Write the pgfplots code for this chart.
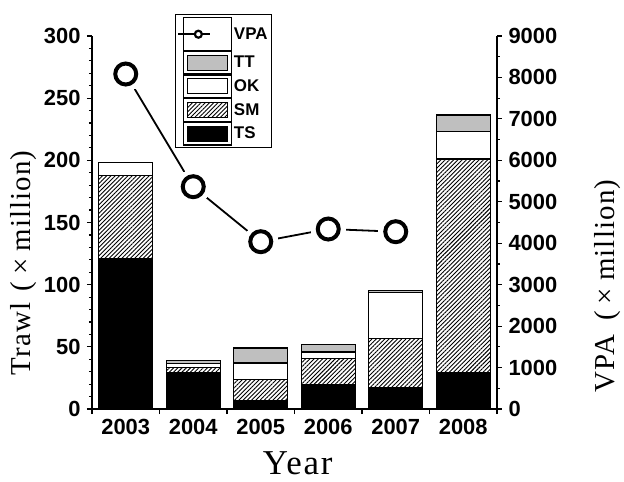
\documentclass[border=0pt]{standalone}
\usepackage{fontspec}
\setmainfont{Liberation Serif}
\newfontfamily\arial{Liberation Sans}
\usepackage{pgfplots}
\pgfplotsset{compat=1.18}
\usetikzlibrary{patterns.meta}

\begin{document}
\begin{tikzpicture}
\begin{axis}[
 name=ax, at={(0,0)}, anchor=south west,
 width=405bp, height=373bp, scale only axis,
 xmin=-0.5, xmax=5.5, ymin=0, ymax=300,
 axis y line*=left, axis x line*=bottom,
 ybar stacked, bar width=0.8,
 axis line style={line width=1.2bp, -},
 tick style={line width=1.2bp, black},
 tick align=outside,
 major tick length=5bp, minor tick length=3bp,
 ytick={0,50,...,300}, minor y tick num=4,
 xtick={-0.5,0.5,1.5,2.5,3.5,4.5,5.5}, xticklabels={},
 extra x ticks={0,1,2,3,4,5},
 extra x tick labels={2003,2004,2005,2006,2007,2008},
 extra x tick style={major tick length=0pt},
 ticklabel style={font=\arial\bfseries\fontsize{22}{22}\selectfont},
 yticklabel style={xshift=-3bp},
 xticklabel style={yshift=-7bp},
 /pgf/number format/assume math mode=true,
 ylabel={Trawl\hspace{11bp}(\hspace{7bp}×\hspace{7bp}million)},
 ylabel style={at={(axis description cs:-0.170,0.392)}, anchor=center, inner sep=0pt, font=\addfontfeature{LetterSpace=4}\fontsize{29}{29}\selectfont},
 xlabel={Year},
 xlabel style={at={(axis description cs:0.508,-0.145)}, anchor=center, font=\addfontfeature{LetterSpace=5}\fontsize{35}{35}\selectfont},
]
\addplot[fill=black, draw=black, line width=1.2bp] coordinates {(0,121) (1,29.5) (2,7) (3,19.3) (4,17.5) (5,29)};
\addplot[pattern={Lines[angle=45,distance=3bp,line width=0.9bp]}, draw=black, line width=1.2bp] coordinates {(0,67) (1,4) (2,17) (3,21.5) (4,39) (5,172)};
\addplot[fill=white, draw=black, line width=1.2bp] coordinates {(0,10) (1,3) (2,13) (3,5) (4,37) (5,22)};
\addplot[fill=gray!50, draw=black, line width=1.2bp] coordinates {(0,0) (1,2.5) (2,12) (3,6) (4,1.5) (5,13.5)};
\end{axis}
\begin{axis}[
 at={(0,0)}, anchor=south west,
 width=405bp, height=373bp, scale only axis,
 xmin=-0.5, xmax=5.5, ymin=0, ymax=9000,
 axis y line*=right, axis x line=none,
 axis line style={line width=1.2bp, -},
 tick style={line width=1.2bp, black},
 tick align=outside,
 major tick length=5bp, minor tick length=3bp,
 ytick={0,1000,...,9000}, minor y tick num=1,
 scaled y ticks=false,
 yticklabel style={/pgf/number format/1000 sep={}, font=\arial\bfseries\fontsize{22}{22}\selectfont, xshift=3bp},
 /pgf/number format/assume math mode=true,
 ylabel={VPA\hspace{14bp}(\hspace{7bp}×\hspace{7bp}million)},
 ylabel style={at={(axis description cs:1.274,0.33)}, anchor=center, inner sep=0pt, font=\addfontfeature{LetterSpace=4}\fontsize{29}{29}\selectfont},
 legend style={at={(rel axis cs:0.205,1.059)}, anchor=north west, draw=black, line width=1.2bp,
   font=\arial\bfseries\fontsize{17}{17}\selectfont, row sep=0pt, inner sep=2bp},
 legend cell align=left,
]
\addplot[line width=1.8bp, black, forget plot] coordinates {(0,8083) (1,5364) (2,4037) (3,4343) (4,4278)};
\addplot[only marks, mark=*, mark size=17bp, mark options={fill=white, draw=white, line width=0pt}, forget plot] coordinates {(0,8083) (1,5364) (2,4037) (3,4343) (4,4278)};
\addplot[only marks, mark=o, mark size=10.5bp, mark options={line width=4bp, draw=black, fill=white},
  legend image code/.code={
    \path (0bp,-16bp) rectangle (48bp,17bp);
    \draw[line width=1.5bp] (-5bp,0bp) -- (27bp,0bp);
    \draw[line width=2.2bp, fill=white] (15bp,0bp) circle (3.5bp);
  }] coordinates {(0,8083) (1,5364) (2,4037) (3,4343) (4,4278)};
\addlegendentry{VPA}
\addlegendimage{legend image code/.code={\path (0bp,-11.25bp) rectangle (48bp,11.25bp); \draw[line width=1bp, fill=gray!50] (4bp,-7.5bp) rectangle (44bp,7.5bp);}}
\addlegendentry{TT}
\addlegendimage{legend image code/.code={\path (0bp,-11.25bp) rectangle (48bp,11.25bp); \draw[line width=1bp, fill=white] (4bp,-7.5bp) rectangle (44bp,7.5bp);}}
\addlegendentry{OK}
\addlegendimage{legend image code/.code={\path (0bp,-11.25bp) rectangle (48bp,11.25bp); \draw[line width=1bp, pattern={Lines[angle=45,distance=3bp,line width=0.9bp]}] (4bp,-7.5bp) rectangle (44bp,7.5bp);}}
\addlegendentry{SM}
\addlegendimage{legend image code/.code={\path (0bp,-11.25bp) rectangle (48bp,11.25bp); \draw[line width=1bp, fill=black] (4bp,-7.5bp) rectangle (44bp,7.5bp);}}
\addlegendentry{TS}
\end{axis}
\pgfresetboundingbox
\path[use as bounding box] (-92bp,-73bp) rectangle (532bp,409bp);
\end{tikzpicture}
\end{document}
